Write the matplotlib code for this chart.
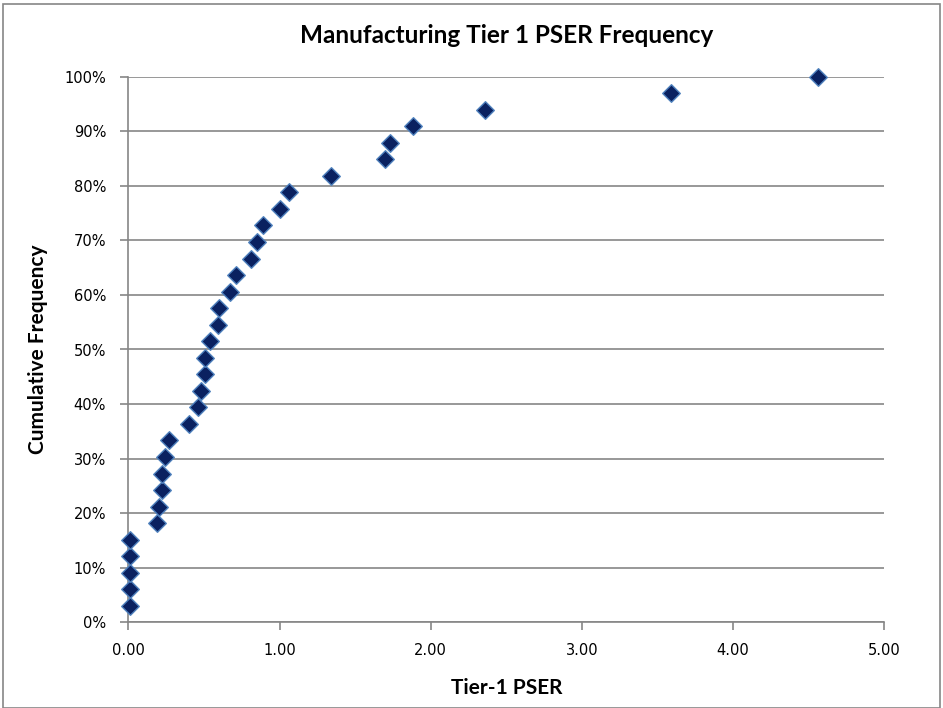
import matplotlib.pyplot as plt
from matplotlib.ticker import PercentFormatter, MultipleLocator

# Tier-1 PSER values, sorted
pser = [0.01, 0.01, 0.01, 0.01, 0.01, 0.19, 0.20, 0.22, 0.22, 0.24,
        0.27, 0.40, 0.46, 0.48, 0.51, 0.51, 0.54, 0.59, 0.60, 0.67,
        0.71, 0.81, 0.85, 0.89, 1.00, 1.06, 1.34, 1.70, 1.73, 1.88,
        2.36, 3.59, 4.56]
# cumulative frequency (%)
cum_freq = [3.03, 6.06, 9.09, 12.12, 15.15, 18.18, 21.21, 24.24, 27.27, 30.30,
            33.33, 36.36, 39.39, 42.42, 45.45, 48.48, 51.52, 54.55, 57.58, 60.61,
            63.64, 66.67, 69.70, 72.73, 75.76, 78.79, 81.82, 84.85, 87.88, 90.91,
            93.94, 96.97, 100.0]

grey = '#868686'

fig = plt.figure(figsize=(9.43, 7.08), dpi=100)
# outer chart border like the Excel chart area
fig.patches.append(plt.Rectangle((0.003, 0.0), 0.994, 0.995, transform=fig.transFigure,
                                 fill=False, edgecolor=grey, linewidth=1.2))

ax = fig.add_axes([128.3 / 943, 1 - 622.3 / 708, 756 / 943, 545.6 / 708])
ax.scatter(pser, cum_freq, marker='D', s=80, facecolor='#0a2160',
           edgecolor='#4f81bd', linewidth=1.0, zorder=3, clip_on=False)

ax.set_xlim(0, 5)
ax.set_ylim(0, 100)
ax.xaxis.set_major_locator(MultipleLocator(1))
ax.yaxis.set_major_locator(MultipleLocator(10))
ax.xaxis.set_major_formatter(lambda v, p: f'{v:.2f}')
ax.yaxis.set_major_formatter(PercentFormatter(decimals=0))

ax.grid(axis='y', color=grey, linewidth=1.2)
ax.set_axisbelow(True)
for side in ['top', 'right']:
    ax.spines[side].set_visible(False)
for side in ['left', 'bottom']:
    ax.spines[side].set_color(grey)
    ax.spines[side].set_linewidth(1.2)
ax.tick_params(direction='out', length=6, width=1.2, color=grey,
               labelsize=10.5, labelcolor='black')
ax.tick_params(axis='x', pad=9)
ax.tick_params(axis='y', pad=10)

ax.set_title('Manufacturing Tier 1 PSER Frequency', fontsize=17.5, fontweight='bold',
             family='Lato', pad=24)
ax.set_xlabel('Tier-1 PSER', fontsize=15, fontweight='bold', family='Lato', labelpad=14)
ax.set_ylabel('Cumulative Frequency', fontsize=15, fontweight='bold', family='Lato',
              labelpad=12)

fig.savefig('out.png', dpi=100)
